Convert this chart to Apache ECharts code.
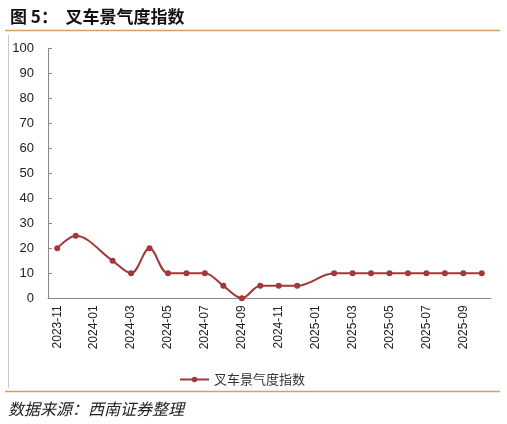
<!DOCTYPE html>
<html>
<head>
<meta charset="utf-8">
<script src="https://cdn.jsdelivr.net/npm/echarts@6/dist/echarts.min.js"></script>
<style>
html,body{margin:0;padding:0;background:#fff;}
#c{width:507px;height:424px;}
</style>
</head>
<body>
<div id="c"></div>
<script>
var categories = ['2023-11','2023-12','2024-01','2024-02','2024-03','2024-04','2024-05','2024-06','2024-07','2024-08','2024-09','2024-10','2024-11','2024-12','2025-01','2025-02','2025-03','2025-04','2025-05','2025-06','2025-07','2025-08','2025-09','2025-10'];
var forkliftIndex = [20,25,null,15,10,20,10,10,10,5,0,5,5,5,null,10,10,10,10,10,10,10,10,10];
var seriesName = '叉车景气度指数';
var titleText = '图 5：  叉车景气度指数';
var sourceText = '数据来源：西南证券整理';

var chart = echarts.init(document.getElementById('c'));
var red = '#A3383A';
var gold = '#D2A15C';
chart.setOption({
  animation: false,
  title: {
    text: titleText,
    left: 5, top: 3,
    textStyle: {fontFamily: 'Noto Sans CJK SC', fontSize: 17, fontWeight: 'bold', color: '#111'}
  },
  graphic: [
    {type: 'line', shape: {x1: 5, y1: 30.5, x2: 500, y2: 30.5}, style: {stroke: gold, lineWidth: 1.5}},
    {type: 'line', shape: {x1: 5, y1: 391.5, x2: 500, y2: 391.5}, style: {stroke: gold, lineWidth: 1.5}},
    {type: 'line', shape: {x1: 8.5, y1: 35, x2: 8.5, y2: 388}, style: {stroke: '#c8c8c8', lineWidth: 1}},
    {type: 'text', left: 8, top: 401, style: {text: sourceText, font: 'italic 16px "Noto Sans CJK SC"', fill: '#222'}}
  ],
  grid: {left: 48, right: 16, top: 48.3, bottom: 125.7, containLabel: false},
  legend: {
    data: [seriesName],
    left: 174, top: 368,
    itemWidth: 29, itemHeight: 7, itemGap: 4,
    textStyle: {fontFamily: 'Noto Sans CJK SC', fontSize: 13, color: '#333'}
  },
  xAxis: {
    type: 'category',
    data: categories,
    boundaryGap: true,
    axisLine: {lineStyle: {color: '#888', width: 1}},
    axisTick: {inside: true, length: 4, interval: 1, lineStyle: {color: '#888'}},
    axisLabel: {interval: 1, rotate: 90, margin: 7, fontFamily: 'Liberation Sans', fontSize: 12, color: '#222'}
  },
  yAxis: {
    type: 'value',
    min: 0, max: 100, interval: 10,
    axisLine: {show: true, lineStyle: {color: '#888', width: 1}},
    axisTick: {show: true, inside: true, length: 4, lineStyle: {color: '#888'}},
    splitLine: {show: false},
    axisLabel: {margin: 14, fontFamily: 'Liberation Sans', fontSize: 13, color: '#222'}
  },
  series: [{
    name: seriesName,
    type: 'line',
    data: forkliftIndex,
    connectNulls: true,
    smooth: 0.35,
    symbol: 'circle',
    symbolSize: 6,
    lineStyle: {color: red, width: 2},
    itemStyle: {color: red}
  }]
});
</script>
</body>
</html>
